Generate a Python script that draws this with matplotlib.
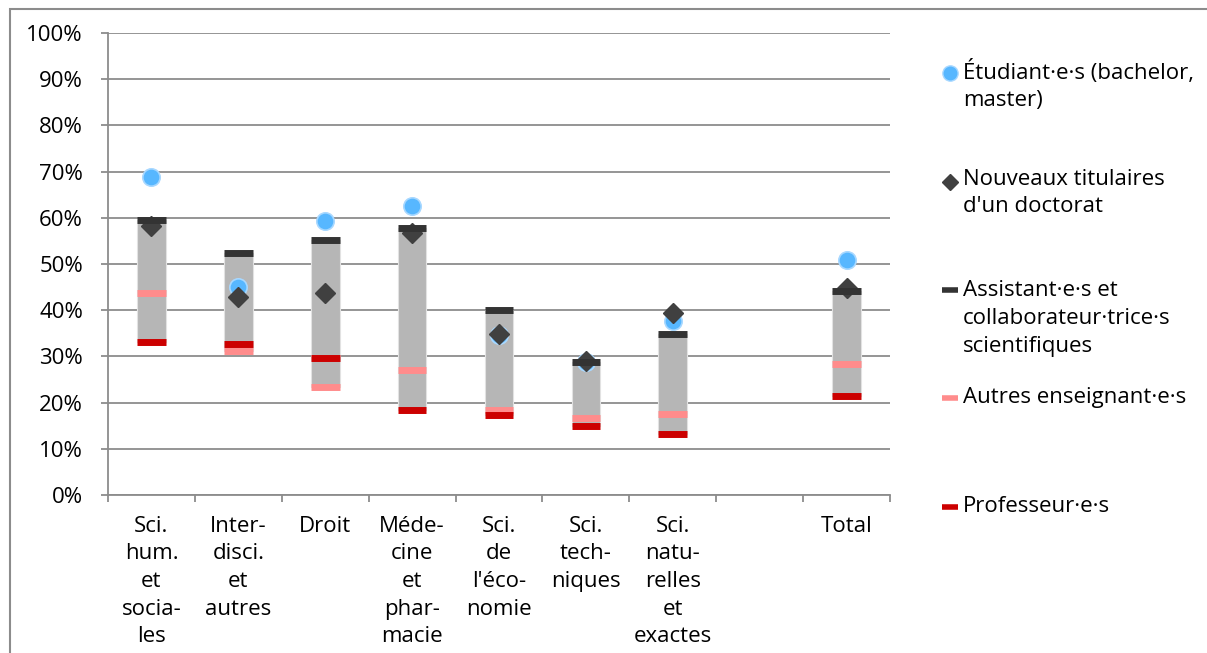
import numpy as np
import matplotlib

matplotlib.use("Agg")
import matplotlib.pyplot as plt
from matplotlib.lines import Line2D
from matplotlib.patches import Rectangle


categories = [
    "Sci.\nhum.\net\nsocia-\nles",
    "Inter-\ndisci.\net\nautres",
    "Droit",
    "Méde-\ncine\net\nphar-\nmacie",
    "Sci.\nde\nl'éco-\nnomie",
    "Sci.\ntech-\nniques",
    "Sci.\nnatu-\nrelles\net\nexactes",
    "",
    "Total",
]

etudiants = [68.8, 45.1, 59.3, 62.5, 34.6, 28.7, 37.7, np.nan, 50.9]
doctorat = [58.2, 42.9, 43.7, 56.8, 34.8, 28.9, 39.5, np.nan, 44.8]
assistants = [59.5, 52.4, 55.3, 57.8, 40.1, 28.7, 34.8, np.nan, 44.1]
autres_enseignants = [43.7, 31.1, 23.3, 27.1, 18.4, 16.7, 17.5, np.nan, 28.4]
professeurs = [33.2, 32.6, 29.7, 18.4, 17.3, 15.0, 13.3, np.nan, 21.4]

legend_labels = [
    "Étudiant·e·s (bachelor,\nmaster)",
    "Nouveaux titulaires\nd'un doctorat",
    "Assistant·e·s et\ncollaborateur·trice·s\nscientifiques",
    "Autres enseignant·e·s",
    "Professeur·e·s",
]

COR_ETUDIANTS = "#57B7FF"
COR_DOCTORAT = "#404040"
COR_ASSISTANTS = "#333333"
COR_AUTRES = "#FF8C8C"
COR_PROFS = "#CC0000"
COR_BARRA = "#B6B6B6"
COR_GRADE = "#8C8C8C"

W, H = 1207, 653

plt.rcParams["font.family"] = ["Open Sans", "DejaVu Sans"]
plt.rcParams["font.size"] = 16

fig = plt.figure(figsize=(W / 100, H / 100), dpi=100)
ax = fig.add_axes([108 / W, 1 - 495 / H, (890 - 108) / W, (495 - 33) / H])

x = np.arange(len(categories))
linhas = np.array([assistants, autres_enseignants, professeurs])
base = np.nanmin(linhas, axis=0)
topo = np.nanmax(linhas, axis=0)

largura = 0.33
ax.bar(x, topo - base, bottom=base, width=largura, color=COR_BARRA,
       edgecolor="#E2E2E2", linewidth=0.8, zorder=2)

for valores, cor in [(autres_enseignants, COR_AUTRES), (professeurs, COR_PROFS)]:
    ax.hlines(valores, x - largura / 2, x + largura / 2, colors=cor,
              linewidth=5, capstyle="butt", zorder=3)

ax.plot(x, etudiants, linestyle="none", marker="o", markersize=12.5,
        markerfacecolor=COR_ETUDIANTS, markeredgecolor="#A8D8FF",
        markeredgewidth=1.2, zorder=4)
ax.plot(x, doctorat, linestyle="none", marker="D", markersize=10,
        color=COR_DOCTORAT, zorder=5)
ax.hlines(assistants, x - largura / 2, x + largura / 2, colors=COR_ASSISTANTS,
          linewidth=5, capstyle="butt", zorder=6)

ax.set_xlim(-0.5, len(categories) - 0.5)
ax.set_ylim(0, 100)
ax.set_yticks(np.arange(0, 101, 10))
ax.set_yticklabels([f"{v}%" for v in range(0, 101, 10)])
ax.yaxis.grid(True, color=COR_GRADE, linewidth=1.3, zorder=0)
ax.set_axisbelow(True)

ax.set_xticks(np.arange(-0.5, len(categories)), minor=False)
ax.set_xticklabels([])
ax.set_xticks(x, minor=True)
ax.set_xticklabels(categories, minor=True, linespacing=1.41, va="top")
ax.tick_params(axis="x", which="major", length=5, width=1.3, color=COR_GRADE)
ax.tick_params(axis="x", which="minor", length=0, pad=15)
ax.tick_params(axis="y", length=5, width=1.3, color=COR_GRADE, pad=13)

for lado in ["top", "right"]:
    ax.spines[lado].set_visible(False)
for lado in ["left", "bottom"]:
    ax.spines[lado].set_color(COR_GRADE)
    ax.spines[lado].set_linewidth(1.3)

# legenda montada a mao (espacamento irregular como no original)
legenda_y = [85.5, 193, 318.5, 398, 507]
marcador_y = [72.7, 181.7, 290, 398, 507]
estilos = [
    dict(marker="o", markersize=11, markerfacecolor=COR_ETUDIANTS,
         markeredgecolor="#A8D8FF", markeredgewidth=1),
    dict(marker="D", markersize=8, color=COR_DOCTORAT),
    dict(marker="_", markersize=11.5, markeredgewidth=4, color=COR_ASSISTANTS),
    dict(marker="_", markersize=11.5, markeredgewidth=4, color=COR_AUTRES),
    dict(marker="_", markersize=11.5, markeredgewidth=4, color=COR_PROFS),
]
for texto, yt, ym, estilo in zip(legend_labels, legenda_y, marcador_y, estilos):
    fig.add_artist(Line2D([950 / W], [1 - ym / H], linestyle="none",
                          transform=fig.transFigure, **estilo))
    fig.text(963 / W, 1 - yt / H, texto, ha="left", va="center",
             linespacing=1.42)

fig.add_artist(Rectangle((10 / W, -0.1), 1.2, 1.1 - 9 / H, transform=fig.transFigure,
                         fill=False, edgecolor="#8C8C8C", linewidth=1.5))

fig.savefig("out.png", dpi=100)
